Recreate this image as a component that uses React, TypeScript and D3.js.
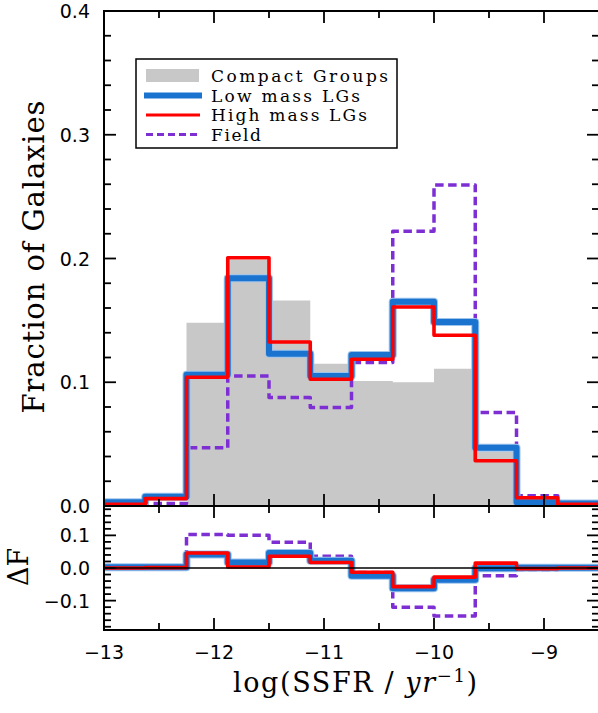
import React, { useEffect, useRef } from 'react';
import * as d3 from 'd3';

// histogram bin edges, log(SSFR / yr^-1)
const binEdges = [
  -13, -12.625, -12.25, -11.875, -11.5, -11.125, -10.75, -10.375, -10, -9.625,
  -9.25, -8.875, -8.5,
];

// main panel: fraction of galaxies per bin
const compactGroups = [0, 0, 0.148, 0.199, 0.166, 0.115, 0.101, 0.1, 0.111, 0.044, 0, 0];
const lowMassLGs = [0.003, 0.0075, 0.106, 0.184, 0.123, 0.105, 0.122, 0.165, 0.1487, 0.047, 0.003, 0.002];
const highMassLGs = [0.0014, 0.006, 0.104, 0.2006, 0.1325, 0.1024, 0.1186, 0.1608, 0.138, 0.0366, 0.0067, 0.0014];
const field = [0, 0.002, 0.047, 0.105, 0.0876, 0.0796, 0.116, 0.222, 0.2594, 0.0755, 0.0083, 0.001];

// lower panel: delta F per bin
const deltaLow = [0.002, 0.002, 0.041, 0.017, 0.046, 0.022, -0.024, -0.062, -0.036, -0.001, 0.001, 0.001];
const deltaHigh = [0.0, 0.001, 0.046, 0.003, 0.036, 0.017, -0.013, -0.057, -0.028, 0.015, -0.002, 0.0];
const deltaField = [0.003, 0.004, 0.103, 0.1, 0.079, 0.036, -0.014, -0.12, -0.147, -0.024, -0.005, -0.002];

const xTicks = [-13, -12, -11, -10, -9];
const xTickLabels = ['\u221213', '\u221212', '\u221211', '\u221210', '\u22129'];
const yTicksMain = [0, 0.1, 0.2, 0.3, 0.4];
const yTickLabelsMain = ['0.0', '0.1', '0.2', '0.3', '0.4'];
const yTicksDelta = [-0.1, 0, 0.1];
const yTickLabelsDelta = ['\u22120.1', '0.0', '0.1'];
const legendLabels = ['Compact Groups', 'Low mass LGs', 'High mass LGs', 'Field'];
const legendWidths = [177, 149, 156, 50];

const BLUE = '#1a74cf';
const BLUE_HALO = '#9fc4ec';
const RED = '#ff0000';
const PURPLE = '#7e2fd4';
const GRAY = '#c8c8c8';

type Pt = [number, number];

const steps = (vals: number[]): Pt[] =>
  binEdges.map((e, i) => [e, vals[Math.min(i, vals.length - 1)]] as Pt);

export default function App() {
  const svgRef = useRef<SVGSVGElement>(null);
  const width = 598;
  const height = 713;

  useEffect(() => {
    if (!svgRef.current) return;
    const svg = d3.select(svgRef.current);
    svg.selectAll('*').remove();

    const left = 104;
    const right = 599;
    const top = 11;
    const mid = 506;
    const bottom = 630;

    const x = d3.scaleLinear().domain([-13, -8.5]).range([left, right]);
    const y = d3.scaleLinear().domain([0, 0.4]).range([mid, top]);
    const yd = d3.scaleLinear().domain([-0.19, 0.19]).range([bottom, mid]);

    const defs = svg.append('defs');
    defs
      .append('clipPath')
      .attr('id', 'clip-main')
      .append('rect')
      .attr('x', left)
      .attr('y', top)
      .attr('width', right - left)
      .attr('height', mid - top);
    defs
      .append('clipPath')
      .attr('id', 'clip-delta')
      .append('rect')
      .attr('x', left)
      .attr('y', mid)
      .attr('width', right - left)
      .attr('height', bottom - mid);

    const drawStep = (
      g: d3.Selection<SVGGElement, unknown, null, undefined>,
      yScale: d3.ScaleLinear<number, number>,
      vals: number[],
      color: string,
      w: number,
      dash?: string
    ) => {
      const line = d3
        .line<Pt>()
        .x((d) => x(d[0]))
        .y((d) => yScale(d[1]))
        .curve(d3.curveStepAfter);
      const p = g
        .append('path')
        .datum(steps(vals))
        .attr('fill', 'none')
        .attr('stroke', color)
        .attr('stroke-width', w)
        .attr('stroke-linejoin', 'round')
        .attr('d', line);
      if (dash) p.attr('stroke-dasharray', dash);
    };

    // ---- main panel
    const main = svg.append('g').attr('clip-path', 'url(#clip-main)');
    const area = d3
      .area<Pt>()
      .x((d) => x(d[0]))
      .y0(y(0))
      .y1((d) => y(d[1]))
      .curve(d3.curveStepAfter);
    main.append('path').datum(steps(compactGroups)).attr('fill', GRAY).attr('d', area);

    drawStep(main, y, field, PURPLE, 3.5, '8.5,4.5');
    drawStep(main, y, lowMassLGs, BLUE_HALO, 8);
    drawStep(main, y, lowMassLGs, BLUE, 6);
    drawStep(main, y, highMassLGs, RED, 3.6);

    // ---- lower panel
    const delta = svg.append('g').attr('clip-path', 'url(#clip-delta)');
    drawStep(delta, yd, deltaField, PURPLE, 3.5, '8.5,4.5');
    drawStep(delta, yd, deltaLow, BLUE_HALO, 8);
    drawStep(delta, yd, deltaLow, BLUE, 6);
    drawStep(delta, yd, deltaHigh, RED, 3.6);
    delta
      .append('line')
      .attr('x1', left)
      .attr('x2', right)
      .attr('y1', yd(0))
      .attr('y2', yd(0))
      .attr('stroke', '#000')
      .attr('stroke-width', 1.5);

    // ---- ticks
    const axes = svg.append('g').attr('stroke', '#000').attr('stroke-width', 1.8);
    const xMinor = d3.range(-12.5, -8.5, 1);
    const hTick = (xv: number, y0: number, len: number) =>
      axes.append('line').attr('x1', x(xv)).attr('x2', x(xv)).attr('y1', y0).attr('y2', y0 + len);
    [top, mid].forEach((edge) => {
      xTicks.slice(1).forEach((t) => hTick(t, edge, 12));
      xMinor.forEach((t) => hTick(t, edge, 7));
    });
    [mid, bottom].forEach((edge) => {
      xTicks.slice(1).forEach((t) => hTick(t, edge, -12));
      xMinor.forEach((t) => hTick(t, edge, -7));
    });

    const vTick = (yy: number, len: number) => {
      axes.append('line').attr('x1', left).attr('x2', left + len).attr('y1', yy).attr('y2', yy);
      axes.append('line').attr('x1', right).attr('x2', right - len).attr('y1', yy).attr('y2', yy);
    };
    d3.range(0.02, 0.4, 0.02).forEach((v) => {
      const major = Math.abs(v * 10 - Math.round(v * 10)) < 1e-6;
      vTick(y(v), major ? 12 : 7);
    });
    d3.range(-0.18, 0.19, 0.02).forEach((v) => {
      const major = Math.abs(v * 10 - Math.round(v * 10)) < 1e-6;
      vTick(yd(v), major ? 12 : 7);
    });

    // ---- frames
    svg
      .append('rect')
      .attr('x', left)
      .attr('y', top)
      .attr('width', right - left)
      .attr('height', mid - top)
      .attr('fill', 'none')
      .attr('stroke', '#000')
      .attr('stroke-width', 2);
    svg
      .append('rect')
      .attr('x', left)
      .attr('y', mid)
      .attr('width', right - left)
      .attr('height', bottom - mid)
      .attr('fill', 'none')
      .attr('stroke', '#000')
      .attr('stroke-width', 2);

    // ---- tick labels
    const tickFont = 'DejaVu Sans, sans-serif';
    svg
      .append('g')
      .selectAll('text')
      .data(yTicksMain)
      .join('text')
      .attr('x', 90)
      .attr('y', (d) => y(d) + 7)
      .attr('text-anchor', 'end')
      .attr('font-family', tickFont)
      .attr('font-size', 19)
      .text((d, i) => yTickLabelsMain[i]);
    svg
      .append('g')
      .selectAll('text')
      .data(yTicksDelta)
      .join('text')
      .attr('x', 90)
      .attr('y', (d) => yd(d) + 7)
      .attr('text-anchor', 'end')
      .attr('font-family', tickFont)
      .attr('font-size', 19)
      .text((d, i) => yTickLabelsDelta[i]);
    svg
      .append('g')
      .selectAll('text')
      .data(xTicks)
      .join('text')
      .attr('x', (d) => x(d))
      .attr('y', 659)
      .attr('text-anchor', 'middle')
      .attr('font-family', tickFont)
      .attr('font-size', 19)
      .text((d, i) => xTickLabels[i]);

    // ---- axis titles
    const serif = 'DejaVu Serif, serif';
    svg
      .append('text')
      .attr('transform', 'translate(44,257) rotate(-90)')
      .attr('text-anchor', 'middle')
      .attr('font-family', serif)
      .attr('font-size', 29)
      .attr('textLength', 313)
      .attr('lengthAdjust', 'spacing')
      .text('Fraction of Galaxies');
    svg
      .append('text')
      .attr('transform', 'translate(28,567) rotate(-90)')
      .attr('text-anchor', 'middle')
      .attr('font-family', serif)
      .attr('font-size', 27)
      .text('\u0394F');

    const xl = svg
      .append('text')
      .attr('x', 355)
      .attr('y', 692)
      .attr('text-anchor', 'middle')
      .attr('font-family', serif)
      .attr('font-size', 27)
      .attr('textLength', 244)
      .attr('lengthAdjust', 'spacing');
    xl.append('tspan').text('log(SSFR / ');
    xl.append('tspan').attr('font-style', 'italic').text('yr');
    xl.append('tspan').attr('dy', -10).attr('font-size', 18).text('\u22121');
    xl.append('tspan').attr('dy', 10).text(')');

    // ---- legend
    const lg = svg.append('g');
    lg.append('rect')
      .attr('x', 136)
      .attr('y', 59)
      .attr('width', 261)
      .attr('height', 89)
      .attr('fill', '#fff')
      .attr('stroke', '#000')
      .attr('stroke-width', 1.5);
    const rowY = [75.5, 95.5, 115, 134.5];
    lg.append('rect').attr('x', 146).attr('y', 69).attr('width', 53).attr('height', 13).attr('fill', GRAY);
    lg.append('line').attr('x1', 144).attr('x2', 202).attr('y1', rowY[1]).attr('y2', rowY[1]).attr('stroke', BLUE).attr('stroke-width', 6);
    lg.append('line').attr('x1', 146).attr('x2', 200).attr('y1', rowY[2]).attr('y2', rowY[2]).attr('stroke', RED).attr('stroke-width', 3);
    lg.append('line').attr('x1', 146).attr('x2', 201).attr('y1', rowY[3]).attr('y2', rowY[3]).attr('stroke', PURPLE).attr('stroke-width', 3).attr('stroke-dasharray', '7,4');
    lg.selectAll('text.lab')
      .data(legendLabels)
      .join('text')
      .attr('class', 'lab')
      .attr('x', 211)
      .attr('y', (d, i) => rowY[i] + 6)
      .attr('font-family', serif)
      .attr('font-size', 17)
      .attr('textLength', (d, i) => legendWidths[i])
      .attr('lengthAdjust', 'spacing')
      .text((d) => d);
  }, []);

  return (
    <svg
      ref={svgRef}
      width={width}
      height={height}
      style={{ position: 'absolute', left: 0, top: 0, background: '#fff' }}
    ></svg>
  );
}
